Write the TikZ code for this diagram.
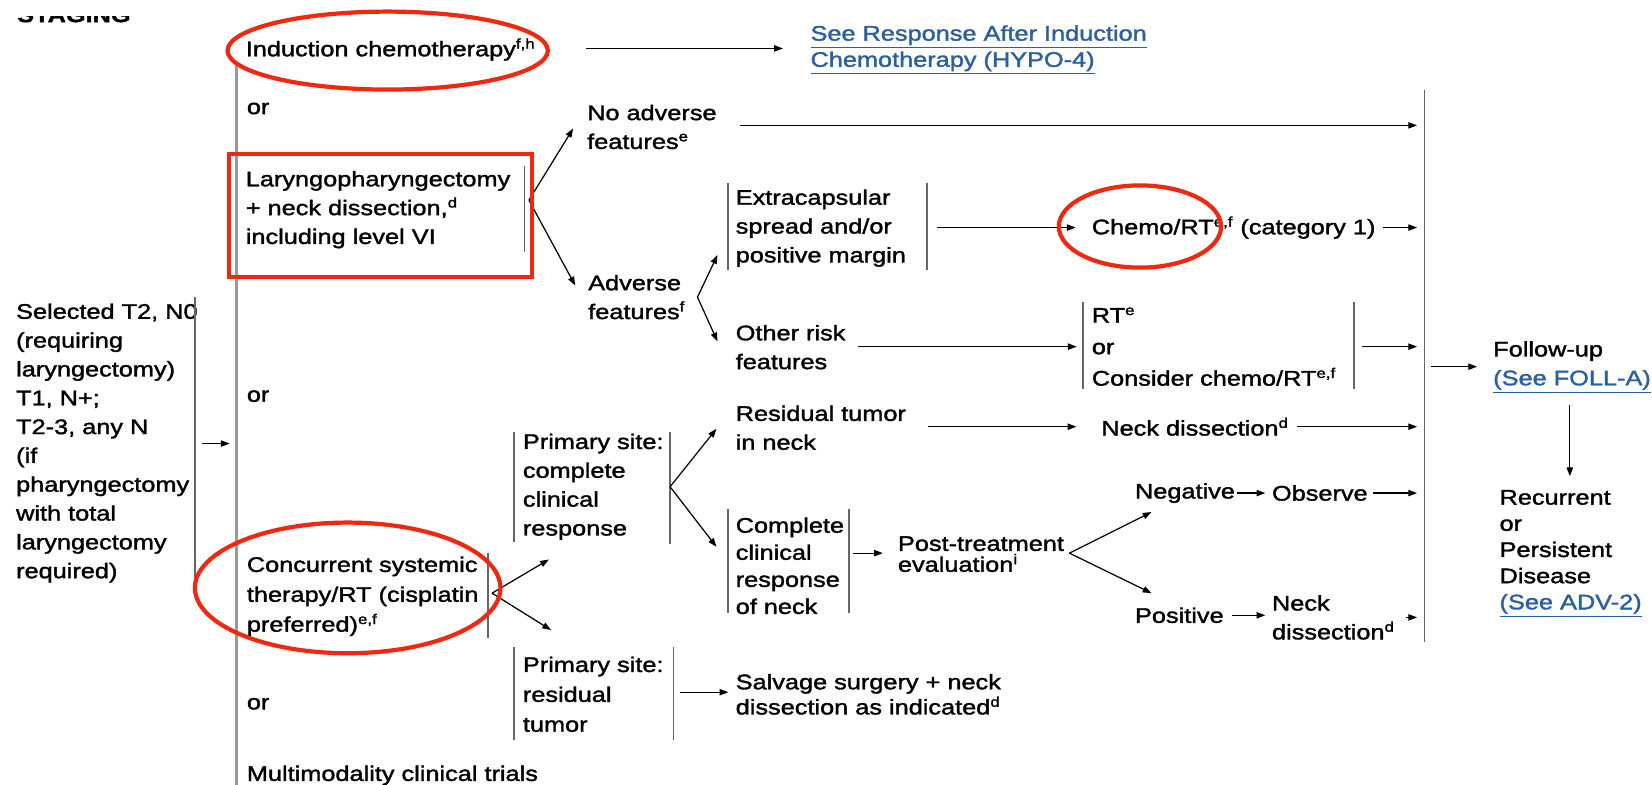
\documentclass[tikz,border=0pt]{standalone}
\usepackage{fontspec}
\setmainfont[FakeStretch=1.2,FakeBold=1.6]{Liberation Sans}
\usetikzlibrary{arrows.meta}
\definecolor{markred}{RGB}{240,40,15}
\definecolor{linkblue}{RGB}{40,95,165}
\newcommand{\lnk}[1]{\textcolor{linkblue}{\underline{#1}}}
\newcommand{\sps}[1]{\textsuperscript{#1}}
\begin{document}
\begin{tikzpicture}[x=0.2107mm,y=-0.2107mm,
    every node/.style={inner sep=0pt,anchor=west,align=left,
      font=\fontsize{12pt}{16.4pt}\selectfont},
    lsp/.style={font=\fontsize{12pt}{#1}\selectfont},
    arr/.style={-{Triangle[length=5pt,width=3.6pt]},line width=0.7pt},
    bar/.style={draw=black!60,line width=0.8pt},
    redmark/.style={draw=markred,line width=2.4pt}]
  \useasboundingbox (0,0) rectangle (1568,745);
  \begin{scope}
    \clip (0,15.5) rectangle (210,40);
    \node[anchor=base west] (staging) at (16,21) {\bfseries STAGING};
  \end{scope}

  % left column
  \node (select) at (15,420.5) {Selected T2, N0\\(requiring\\laryngectomy)\\T1, N+;\\T2-3, any N\\(if\\pharyngectomy\\with total\\laryngectomy\\required)};
  \node (induct) at (233,47) {Induction chemotherapy\sps{f,h}};
  \node (or1) at (234,103) {or};
  \node (laryng) at (233,199) {Laryngopharyngectomy\\+ neck dissection,\sps{d}\\including level VI};
  \node (or2) at (234,376) {or};
  \node[lsp=17pt] (concur) at (234,566) {Concurrent systemic\\therapy/RT (cisplatin\\preferred)\sps{e,f}};
  \node (or3) at (234,668) {or};
  \node (multi) at (234,736) {Multimodality clinical trials};
  \node[lsp=14.9pt] (hypo) at (769,47.5) {\lnk{See Response After Induction}\\\lnk{Chemotherapy (HYPO-4)}};

  % surgery branch
  \node (nofeat) at (557,120.5) {No adverse\\features\sps{e}};
  \node (adv) at (558,282) {Adverse\\features\sps{f}};
  \node (extra) at (698,216.5) {Extracapsular\\spread and/or\\positive margin};
  \node (chemort) at (1036,216) {Chemo/RT\sps{e,f} (category 1)};
  \node (other) at (698,329.5) {Other risk\\features};
  \node[lsp=17.9pt] (rtopt) at (1036,329) {RT\sps{e}\\or\\Consider chemo/RT\sps{e,f}};

  % follow-up
  \node (followup) at (1417,348.5) {Follow-up\\\lnk{(See FOLL-A)}};
  \node[lsp=14.9pt] (recur) at (1423,525.5) {Recurrent\\or\\Persistent\\Disease\\\lnk{(See ADV-2)}};

  % chemoradiation branch
  \node (prim1) at (496,462) {Primary site:\\complete\\clinical\\response};
  \node (resid) at (698,406) {Residual tumor\\in neck};
  \node (neckd1) at (1045,405) {Neck dissection\sps{d}};
  \node[lsp=15.4pt] (cneck) at (698,537) {Complete\\clinical\\response\\of neck};
  \node[lsp=11.9pt] (post) at (852,526) {Post-treatment\\evaluation\sps{i}};
  \node (neg) at (1077,468) {Negative};
  \node (obs) at (1207,468) {Observe};
  \node (pos) at (1077,584) {Positive};
  \node (neckd2) at (1207,586) {Neck\\dissection\sps{d}};
  \node[lsp=17pt] (prim2) at (496,659) {Primary site:\\residual\\tumor};
  \node[lsp=14.3pt] (salv) at (698,659) {Salvage surgery + neck\\dissection as indicated\sps{d}};

  % bars
  \draw[bar] (185,282) -- (185,552);
  \draw[bar,draw=black!40,line width=1.2pt] (224.5,62) -- (224.5,760);
  \draw[bar] (497.6,158) -- (497.6,239);
  \draw[bar] (463,525) -- (463,606);
  \draw[bar] (488,410) -- (488,514);
  \draw[bar] (636,410) -- (636,516);
  \draw[bar] (488,614) -- (488,702);
  \draw[bar] (639,614) -- (639,702);
  \draw[bar] (691,174) -- (691,256);
  \draw[bar] (880,174) -- (880,256);
  \draw[bar] (1028,287) -- (1028,369);
  \draw[bar] (1285,287) -- (1285,369);
  \draw[bar] (691,483) -- (691,582);
  \draw[bar] (806,483) -- (806,582);
  \draw[bar] (1352,85) -- (1352,609);

  % arrow ends
  \coordinate (inbar) at (1345,0);
  \coordinate (sel-o) at (192,421);
  \coordinate (main-i) at (218,421);
  \coordinate (induct-o) at (556,46);
  \coordinate (lar-f) at (502,190);
  \coordinate (nofeat-i) at (544,122);
  \coordinate (adv-i) at (546,271);
  \coordinate (nofeat-o) at (702,119);
  \coordinate (adv-f) at (662,282);
  \coordinate (extra-i) at (681,242);
  \coordinate (other-i) at (681,324);
  \coordinate (extra-o) at (889,216);
  \coordinate (chemort-o) at (1313,216);
  \coordinate (other-o) at (814,329);
  \coordinate (rtopt-o) at (1293,329);
  \coordinate (fu-o) at (1358,348);
  \coordinate (fu-d) at (1490,384);
  \coordinate (recur-i) at (1490,452);
  \coordinate (con-f) at (467,563);
  \coordinate (prim1-i) at (521,531);
  \coordinate (prim2-i) at (523,598);
  \coordinate (p1-f) at (636,462);
  \coordinate (resid-i) at (680,407);
  \coordinate (cneck-i) at (680,519);
  \coordinate (resid-o) at (881,405);
  \coordinate (neckd1-o) at (1231,405);
  \coordinate (cneck-o) at (810,525);
  \coordinate (post-f) at (1015,525);
  \coordinate (neg-i) at (1093,486);
  \coordinate (pos-i) at (1093,563);
  \coordinate (p2-o) at (645,657);

  % arrows
  \draw[arr] (sel-o) -- (main-i);
  \draw[arr,shorten >=15.5pt] (induct-o) -- (induct-o -| hypo.west);
  \draw[arr] (lar-f) -- (nofeat-i);
  \draw[arr] (lar-f) -- (adv-i);
  \draw[arr] (nofeat-o) -- (nofeat-o -| inbar);
  \draw[arr] (adv-f) -- (extra-i);
  \draw[arr] (adv-f) -- (other-i);
  \draw[arr,shorten >=9pt] (extra-o) -- (extra-o -| chemort.west);
  \draw[arr] (chemort-o) -- (chemort-o -| inbar);
  \draw[arr,shorten >=8.4pt] (other-o) -- (other-o -| rtopt.west);
  \draw[arr] (rtopt-o) -- (rtopt-o -| inbar);
  \draw[arr,shorten >=9pt] (fu-o) -- (fu-o -| followup.west);
  \draw[arr] (fu-d) -- (recur-i);
  \draw[arr] (con-f) -- (prim1-i);
  \draw[arr] (con-f) -- (prim2-i);
  \draw[arr] (p1-f) -- (resid-i);
  \draw[arr] (p1-f) -- (cneck-i);
  \draw[arr,shorten >=14pt] (resid-o) -- (resid-o -| neckd1.west);
  \draw[arr] (neckd1-o) -- (neckd1-o -| inbar);
  \draw[arr,shorten >=8.4pt] (cneck-o) -- (cneck-o -| post.west);
  \draw[arr] (post-f) -- (neg-i);
  \draw[arr] (post-f) -- (pos-i);
  \draw[arr,shorten <=1pt,shorten >=3.6pt] (neg) -- (obs);
  \draw[arr,shorten <=3pt] (obs) -- (obs -| inbar);
  \draw[arr,shorten <=4.8pt,shorten >=3.6pt] (pos) -- (pos -| neckd2.west);
  \draw[arr,shorten <=6pt] (neckd2) -- (neckd2 -| inbar);
  \draw[arr,shorten >=4pt] (p2-o) -- (p2-o -| salv.west);

  % red marks
  \draw[redmark] (368,48) ellipse [x radius=152, y radius=37];
  \draw[redmark] (217,146) rectangle (505,263);
  \draw[redmark] (330,558) ellipse [x radius=145, y radius=62];
  \draw[redmark] (1082,215) ellipse [x radius=77, y radius=39];
\end{tikzpicture}
\end{document}
